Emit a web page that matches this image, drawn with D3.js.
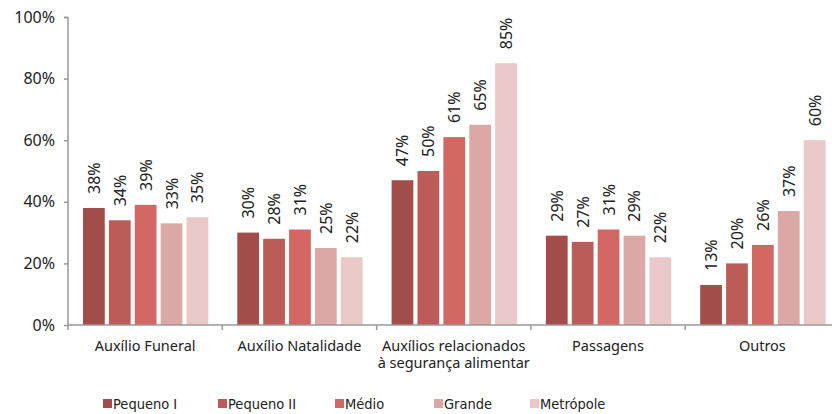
<!DOCTYPE html>
<html><head><meta charset="utf-8">
<script src="https://cdn.jsdelivr.net/npm/d3@7"></script>
<style>body{margin:0;background:#fff}svg{display:block}text{font-family:"Noto Sans",sans-serif}</style>
</head><body><svg id="c" width="832" height="414"></svg>
<script>
const categories = ["Auxílio Funeral", "Auxílio Natalidade", "Auxílios relacionados|à segurança alimentar", "Passagens", "Outros"];
const seriesNames = ["Pequeno I", "Pequeno II", "Médio", "Grande", "Metrópole"];
const pequenoI  = [38, 30, 47, 29, 13];
const pequenoII = [34, 28, 50, 27, 20];
const medio     = [39, 31, 61, 31, 26];
const grande    = [33, 25, 65, 29, 37];
const metropole = [35, 22, 85, 22, 60];
const yTicks = [0, 20, 40, 60, 80, 100];
const colors = ["#a34d4a", "#bc5c58", "#d26763", "#dca8a6", "#eac8c7"];

const series = [pequenoI, pequenoII, medio, grande, metropole];
const svg = d3.select("#c");
const x0 = d3.scaleBand().domain(d3.range(categories.length)).range([68, 839.5]).paddingInner(0).paddingOuter(0);
const x1 = d3.scaleBand().domain(d3.range(seriesNames.length)).range([15, x0.bandwidth() - 14]).paddingInner(0.16).paddingOuter(0);
const y = d3.scaleLinear().domain([0, 100]).range([325, 17]);

// bars
const g = svg.append("g");
categories.forEach((c, ci) => {
  series.forEach((s, si) => {
    const v = s[ci];
    g.append("rect").attr("x", x0(ci) + x1(si)).attr("y", y(v))
      .attr("width", x1.bandwidth()).attr("height", y(0) - y(v)).attr("fill", colors[si]);
    const cx = x0(ci) + x1(si) + x1.bandwidth() / 2;
    g.append("text").attr("transform", `translate(${cx + 6},${y(v) - 14}) rotate(-90)`)
      .attr("font-size", 16).attr("fill", "#222").text(v + "%");
  });
});

// y axis
const ya = svg.append("g").attr("transform", "translate(68,0)")
  .call(d3.axisLeft(y).tickValues(yTicks).tickFormat(d => d + "%").tickSize(4).tickPadding(9));
ya.select(".domain").attr("stroke", "#999").attr("stroke-width", 1.5).attr("d", "M-4,17.5H0V325");
ya.selectAll(".tick line").attr("stroke", "#999").attr("stroke-width", 1.5);
ya.selectAll(".tick text").attr("font-size", 16).attr("fill", "#222").style("font-family", "'Noto Sans',sans-serif");

// x axis
svg.append("line").attr("x1", 68).attr("x2", 832).attr("y1", 325).attr("y2", 325).attr("stroke", "#999").attr("stroke-width", 1.5);
d3.range(categories.length + 1).forEach(i => {
  const xx = i < categories.length ? x0(i) : x0(categories.length - 1) + x0.bandwidth();
  svg.append("line").attr("x1", xx).attr("x2", xx).attr("y1", 325).attr("y2", 330).attr("stroke", "#999").attr("stroke-width", 1.5);
});
categories.forEach((c, ci) => {
  const lines = c.split("|");
  lines.forEach((l, li) => {
    svg.append("text").attr("text-anchor", "middle").attr("font-size", 14.5).attr("fill", "#222")
      .attr("x", x0(ci) + x0.bandwidth() / 2).attr("y", 351 + li * 17).text(l);
  });
});

// legend
const legX = [103, 218, 335, 434, 530];
seriesNames.forEach((n, i) => {
  svg.append("rect").attr("x", legX[i]).attr("y", 399).attr("width", 9).attr("height", 9).attr("fill", colors[i]);
  svg.append("text").attr("x", legX[i] + 10).attr("y", 409).attr("font-size", 14.5).attr("fill", "#222")
    .style("font-family", "'Liberation Sans Narrow','DejaVu Sans Condensed',sans-serif").text(n);
});
</script></body></html>
